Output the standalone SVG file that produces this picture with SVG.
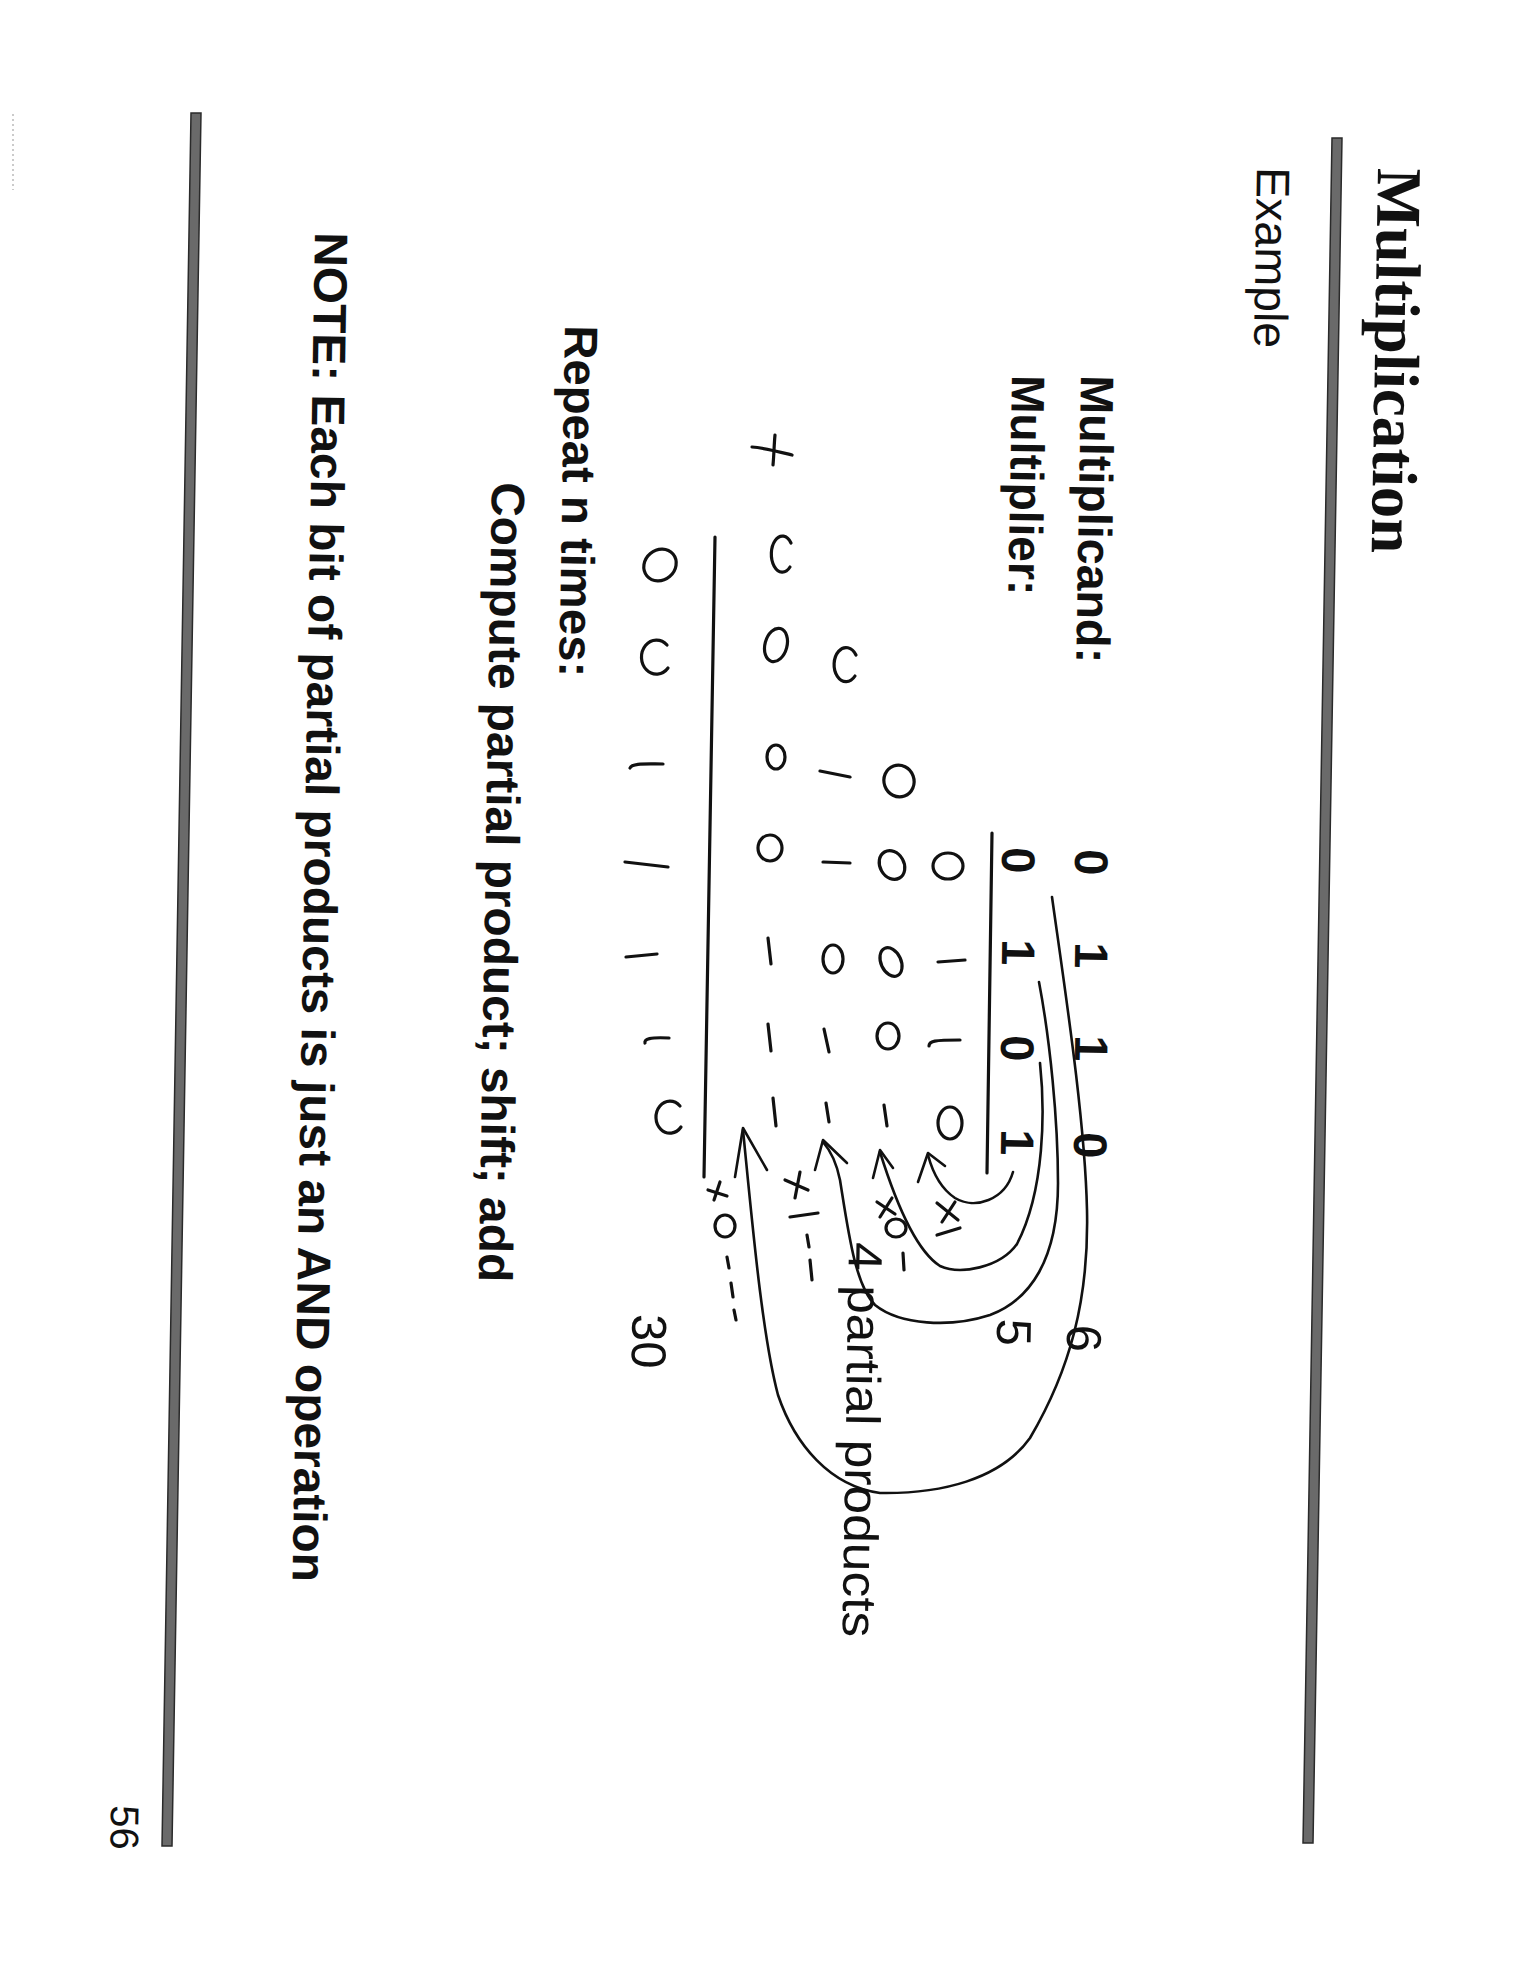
<svg xmlns="http://www.w3.org/2000/svg" width="1530" height="1980" viewBox="0 0 1530 1980">
<style>
.ser{font-family:"Liberation Serif","Times New Roman",serif;font-weight:bold;fill:#111}
.sans{font-family:"Liberation Sans",Arial,sans-serif;fill:#111}
.b{font-weight:bold}
.hw{fill:none;stroke:#111;stroke-width:3.2;stroke-linecap:round;stroke-linejoin:round}
.cv{fill:none;stroke:#111;stroke-width:2.6;stroke-linecap:round;stroke-linejoin:round}
.bar{fill:#6a6a6a;stroke:#2a2a2a;stroke-width:1.5}
</style>
<rect width="1530" height="1980" fill="#fff"/>
<path d="M13,114 L13,190" stroke="#bbb" stroke-width="1.5" stroke-dasharray="2 3"/>

<g id="rules">
<polygon class="bar" points="1332,138 1342,138 1313,1843 1303,1843"/>
<polygon class="bar" points="191,113 201,113 172,1846 162,1846"/>
</g>

<g id="title">
<text class="ser" font-size="64" transform="translate(1378,168) rotate(90.95)" textLength="385" lengthAdjust="spacingAndGlyphs">Multiplication</text>
</g>
<g id="example"><text class="sans" font-size="47" transform="translate(1257,167) rotate(90.95)" textLength="181" lengthAdjust="spacingAndGlyphs">Example</text></g>
<g id="multiplicand-label"><text class="sans b" font-size="47" transform="translate(1081,375) rotate(90.95)" textLength="288" lengthAdjust="spacingAndGlyphs">Multiplicand:</text></g>
<g id="multiplier-label"><text class="sans b" font-size="47" transform="translate(1012,375) rotate(90.95)" textLength="220" lengthAdjust="spacingAndGlyphs">Multiplier:</text></g>

<g id="multiplicand-bits" class="sans b" font-size="47" text-anchor="middle">
<text transform="translate(1075,862) rotate(90.95)">0</text>
<text transform="translate(1075,955) rotate(90.95)">1</text>
<text transform="translate(1075,1048) rotate(90.95)">1</text>
<text transform="translate(1074,1145) rotate(90.95)">0</text>
</g>
<g id="multiplier-bits" class="sans b" font-size="47" text-anchor="middle">
<text transform="translate(1002,860) rotate(90.95)">0</text>
<text transform="translate(1002,952) rotate(90.95)">1</text>
<text transform="translate(1001,1048) rotate(90.95)">0</text>
<text transform="translate(1001,1142) rotate(90.95)">1</text>
</g>
<g id="values" class="sans" font-size="49" text-anchor="middle">
<text transform="translate(1067,1338) rotate(90.95)">6</text>
<text transform="translate(997,1332) rotate(90.95)">5</text>
<text transform="translate(632,1341) rotate(90.95)">30</text>
</g>
<g id="partial-label"><text class="sans" font-size="48" transform="translate(849,1242) rotate(90.95)" textLength="395" lengthAdjust="spacingAndGlyphs">4 partial products</text></g>
<g id="repeat"><text class="sans b" font-size="47" transform="translate(565,325) rotate(90.95)" textLength="352" lengthAdjust="spacingAndGlyphs">Repeat n times:</text></g>
<g id="compute"><text class="sans b" font-size="47" transform="translate(492,482) rotate(90.95)" textLength="800" lengthAdjust="spacingAndGlyphs">Compute partial product; shift; add</text></g>
<g id="note"><text class="sans b" font-size="47" transform="translate(315,232) rotate(90.95)" textLength="1350" lengthAdjust="spacingAndGlyphs">NOTE: Each bit of partial products is just an AND operation</text></g>
<g id="page-number"><text class="sans" font-size="40" transform="translate(111,1805) rotate(90.95)">56</text></g>

<g id="rule-lines" class="hw" stroke-width="2.5">
<path d="M992,833 L987,1173"/>
<path d="M715,537 L704,1177"/>
</g>

<g id="pp0" class="hw">
<ellipse cx="948" cy="866" rx="15" ry="13"/>
<path d="M938,962 L965,960"/>
<path d="M929,1046 C929,1041 934,1040 960,1040"/>
<ellipse cx="950" cy="1123" rx="12" ry="16"/>
</g>
<g id="pp1" class="hw">
<ellipse cx="899" cy="781" rx="15" ry="16" transform="rotate(-20 899 781)"/>
<ellipse cx="892" cy="865" rx="12" ry="15" transform="rotate(-30 892 865)"/>
<ellipse cx="891" cy="962" rx="10" ry="15" transform="rotate(-25 891 962)"/>
<ellipse cx="888" cy="1036" rx="11" ry="13"/>
<path d="M884,1105 L887,1126"/>
</g>
<g id="pp2" class="hw">
<path d="M856,655 A12,17 0 1,0 855,676"/>
<path d="M820,771 L850,777"/>
<path d="M823,862 L850,863"/>
<ellipse cx="833" cy="959" rx="10" ry="14"/>
<path d="M824,1029 L829,1052"/>
<path d="M826,1103 L829,1122"/>
</g>
<g id="pp3" class="hw">
<path d="M791,543 A11,18 0 1,0 790,567"/>
<ellipse cx="776" cy="645" rx="11" ry="17" transform="rotate(15 776 645)"/>
<ellipse cx="776" cy="757" rx="9" ry="12"/>
<ellipse cx="770" cy="848" rx="12" ry="13"/>
<path d="M768,938 L771,964"/>
<path d="M768,1024 L771,1051"/>
<path d="M773,1098 L776,1126"/>
</g>
<g id="plus" class="hw" stroke-width="2.5">
<path d="M752,447 C765,448 780,452 792,455"/>
<path d="M775,435 C774,445 774,455 773,465"/>
</g>
<g id="result" class="hw">
<ellipse cx="660" cy="565" rx="17" ry="15" transform="rotate(-40 660 565)"/>
<path d="M667,645 A15,17 0 1,0 668,668"/>
<path d="M630,768 C632,763 645,764 663,764"/>
<path d="M625,862 L668,867"/>
<path d="M626,957 L657,954"/>
<path d="M645,1043 C644,1039 650,1037 669,1038"/>
<path d="M680,1106 A14,16 0 1,0 681,1127"/>
</g>

<g id="markers" class="hw" stroke-width="2.5">
<path d="M937,1203 L958,1220 M955,1202 L942,1222"/>
<path d="M937,1235 L960,1228"/>
<path d="M877,1202 L895,1214 M892,1198 L880,1217"/>
<ellipse cx="896" cy="1228" rx="10" ry="9"/>
<path d="M903,1253 L904,1270"/>
<path d="M785,1180 L808,1190 M800,1172 L795,1198"/>
<path d="M790,1217 L818,1213"/>
<path d="M807,1235 L809,1247 M810,1260 L812,1280"/>
<path d="M708,1190 L727,1196 M720,1182 L714,1200"/>
<ellipse cx="725" cy="1226" rx="10" ry="11"/>
<path d="M727,1257 L729,1268 M731,1283 L733,1297 M734,1310 L736,1320"/>
</g>

<g id="connectors" class="cv">
<path d="M1013,1172 C1005,1200 975,1210 955,1198 C940,1188 932,1170 928,1155"/>
<path d="M918,1182 L928,1153 L945,1166"/>
<path d="M1040,1063 C1045,1110 1045,1190 1017,1244 C1000,1268 960,1275 940,1266 C915,1250 895,1200 880,1152"/>
<path d="M873,1178 L880,1150 L893,1168"/>
<path d="M1039,982 C1050,1040 1058,1120 1058,1183 C1058,1260 1030,1300 990,1315 C950,1328 900,1325 875,1305 C855,1285 848,1230 840,1180 C836,1160 830,1150 823,1142"/>
<path d="M815,1170 L823,1140 L847,1163"/>
<path d="M1052,897 C1065,990 1085,1120 1087,1210 C1089,1300 1070,1370 1030,1438 C1000,1480 940,1494 880,1493 C830,1486 795,1445 778,1395 C762,1335 752,1220 743,1130"/>
<path d="M735,1177 L743,1128 L767,1170"/>
</g>
</svg>
